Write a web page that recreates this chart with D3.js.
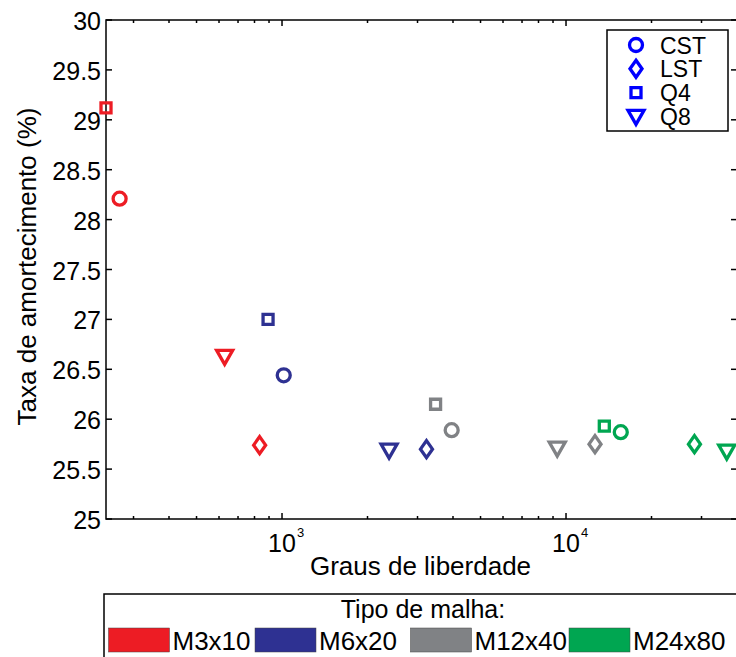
<!DOCTYPE html>
<html>
<head>
<meta charset="utf-8">
<script src="https://cdn.jsdelivr.net/npm/d3@7"></script>
<style>
  body { margin: 0; background: #fff; }
  svg { display: block; font-family: "Liberation Sans", Arial, sans-serif; }
</style>
</head>
<body>
<svg width="736" height="657"></svg>
<script>
// meshes (colour legend) and element types (marker legend)
const meshes = ['M3x10', 'M6x20', 'M12x40', 'M24x80'];
const meshColors = ['#ED1C24', '#2E3192', '#808285', '#00A651'];
const elements = ['CST', 'LST', 'Q4', 'Q8'];

// degrees of freedom, one value per mesh
const dofCST = [268, 1014, 3957, 15590];
const dofLST = [834, 3226, 12650, 28330];
const dofQ4 = [240, 893, 3473, 13640];
const dofQ8 = [628, 2382, 9312, 36810];

// damping ratio (%), one value per mesh
const dampCST = [28.21, 26.44, 25.89, 25.87];
const dampLST = [25.74, 25.70, 25.75, 25.75];
const dampQ4 = [29.12, 27.00, 26.15, 25.93];
const dampQ8 = [26.63, 25.69, 25.71, 25.68];

const yTicks = [25, 25.5, 26, 26.5, 27, 27.5, 28, 28.5, 29, 29.5, 30];
const xMajor = [1000, 10000];

const svg = d3.select('svg');
const pLeft = 106, pRight = 737, pTop = 20, pBottom = 519;

const x = d3.scaleLog().domain([240, 40000]).range([pLeft, pRight]);
const y = d3.scaleLinear().domain([25, 30]).range([pBottom, pTop]);

// marker shapes, centred on (0,0)
function markerPath(type) {
  if (type == 'CST') return 'M6.5,0A6.5,6.5 0 1,1 -6.5,0A6.5,6.5 0 1,1 6.5,0Z';
  if (type == 'LST') return 'M0,-8.5L6,0L0,8.5L-6,0Z';
  if (type == 'Q4') return 'M-5,-5H5V5H-5Z';
  return 'M-8,-6H8L0,8Z';
}

const points = [];
const dofs = { CST: dofCST, LST: dofLST, Q4: dofQ4, Q8: dofQ8 };
const damps = { CST: dampCST, LST: dampLST, Q4: dampQ4, Q8: dampQ8 };
elements.forEach(el => {
  meshes.forEach((m, i) => {
    points.push({ el: el, mesh: i, dof: dofs[el][i], damp: damps[el][i] });
  });
});

// axes box
const axes = svg.append('g').attr('stroke', '#000').attr('stroke-width', 1.5).attr('fill', 'none');
axes.append('rect').attr('x', pLeft).attr('y', pTop).attr('width', pRight - pLeft).attr('height', pBottom - pTop);

// y ticks (inward, on both sides)
yTicks.forEach(v => {
  axes.append('line').attr('x1', pLeft).attr('x2', pLeft + 6).attr('y1', y(v)).attr('y2', y(v));
  axes.append('line').attr('x1', pRight).attr('x2', pRight - 6).attr('y1', y(v)).attr('y2', y(v));
});

// x ticks: majors and the log minors
const xMinor = [];
[100, 1000, 10000].forEach(dec => {
  for (let k = 2; k <= 9; k++) {
    const v = dec * k;
    if (v >= 240 && v <= 40000) xMinor.push(v);
  }
});
xMinor.forEach(v => {
  axes.append('line').attr('x1', x(v)).attr('x2', x(v)).attr('y1', pBottom).attr('y2', pBottom - 3);
  axes.append('line').attr('x1', x(v)).attr('x2', x(v)).attr('y1', pTop).attr('y2', pTop + 3);
});
xMajor.forEach(v => {
  axes.append('line').attr('x1', x(v)).attr('x2', x(v)).attr('y1', pBottom).attr('y2', pBottom - 6);
  axes.append('line').attr('x1', x(v)).attr('x2', x(v)).attr('y1', pTop).attr('y2', pTop + 6);
});

// tick labels
svg.append('g').selectAll('text').data(yTicks).enter().append('text')
  .attr('x', pLeft - 5).attr('y', d => y(d) + 10)
  .attr('text-anchor', 'end').attr('font-size', 25)
  .text(d => d);

xMajor.forEach(v => {
  svg.append('text').attr('x', x(v)).attr('y', 552).attr('text-anchor', 'middle').attr('font-size', 25).text('10');
  svg.append('text').attr('x', x(v) + 15).attr('y', 537).attr('font-size', 13).text(Math.round(Math.log10(v)));
});

// axis labels
svg.append('text').attr('x', (pLeft + pRight) / 2 - 1).attr('y', 575)
  .attr('text-anchor', 'middle').attr('font-size', 26).text('Graus de liberdade');
svg.append('text').attr('transform', 'translate(36,' + ((pTop + pBottom) / 2 - 3) + ') rotate(-90)')
  .attr('text-anchor', 'middle').attr('font-size', 26).text('Taxa de amortecimento (%)');

// data markers
svg.append('g').selectAll('path').data(points).enter().append('path')
  .attr('d', d => markerPath(d.el))
  .attr('transform', d => 'translate(' + x(d.dof) + ',' + y(d.damp) + ')')
  .attr('fill', 'none')
  .attr('stroke', d => meshColors[d.mesh])
  .attr('stroke-width', 3.3);

// marker legend
const leg = svg.append('g');
leg.append('rect').attr('x', 607).attr('y', 30).attr('width', 121).attr('height', 101)
  .attr('fill', '#fff').attr('stroke', '#000').attr('stroke-width', 1.5);
elements.forEach((el, i) => {
  const cy = 45 + i * 23.8;
  leg.append('path').attr('d', markerPath(el))
    .attr('transform', 'translate(636,' + cy + ')')
    .attr('fill', 'none').attr('stroke', '#0000FF').attr('stroke-width', 3.3);
  leg.append('text').attr('x', 660).attr('y', cy + 8.5).attr('font-size', 23).text(el);
});

// mesh legend
const mleg = svg.append('g');
mleg.append('rect').attr('x', 104).attr('y', 594).attr('width', 660).attr('height', 80)
  .attr('fill', '#fff').attr('stroke', '#000').attr('stroke-width', 1.5);
mleg.append('text').attr('x', 423).attr('y', 618).attr('text-anchor', 'middle')
  .attr('font-size', 25).text('Tipo de malha:');
const swatchX = [108.5, 255, 410.5, 569];
meshes.forEach((m, i) => {
  mleg.append('rect').attr('x', swatchX[i]).attr('y', 628).attr('width', 61).attr('height', 24)
    .attr('fill', meshColors[i]).attr('stroke', '#444').attr('stroke-width', 0.5);
  mleg.append('text').attr('x', swatchX[i] + 64).attr('y', 650).attr('font-size', 26).text(m);
});
</script>
</body>
</html>
